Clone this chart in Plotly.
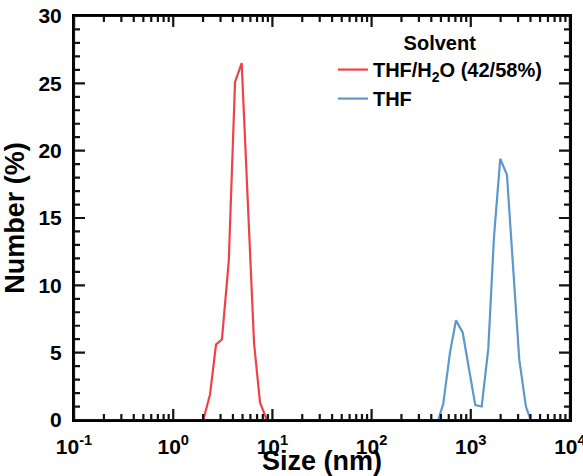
import plotly.graph_objects as go

# Red series: THF/H2O (42/58%)
size_mix = [2.01, 2.35, 2.70, 3.10, 3.63, 4.20, 4.90, 5.65, 6.53, 7.50, 8.77]
num_mix = [0.0, 1.9, 5.6, 6.0, 11.8, 25.1, 26.5, 16.1, 5.7, 1.3, 0.0]

# Blue series: THF
size_thf = [470, 528, 617, 709, 829, 966, 1110, 1288, 1502, 1714, 1983, 2317, 2681, 3082, 3599, 4017]
num_thf = [0.0, 1.2, 5.0, 7.4, 6.5, 3.8, 1.1, 1.0, 5.3, 13.6, 19.4, 18.2, 11.3, 4.5, 1.0, 0.0]

x_tickvals = [0.1, 1, 10, 100, 1000, 10000]
x_ticktext = ["<b>10<sup>-1</sup></b>", "<b>10<sup>0</sup></b>", "<b>10<sup>1</sup></b>",
              "<b>10<sup>2</sup></b>", "<b>10<sup>3</sup></b>", "<b>10<sup>4</sup></b>"]
x_minor = [m * 10 ** e for e in range(-1, 4) for m in range(2, 10)]
y_tickvals = [0, 5, 10, 15, 20, 25, 30]
y_ticktext = ["<b>%d</b>" % v for v in y_tickvals]
y_minor = [v for v in range(0, 31) if v % 5 != 0]

FONT = "Liberation Sans, Arial, sans-serif"
W, H = 583, 476
ML, MR, MT, MB = 74, 13, 16, 56
PW, PH = W - ML - MR, H - MT - MB
MAJ, MIN = 11, 6  # tick lengths in px
XR = [-1.0005, 4.0005]
YR = [0, 30]

fig = go.Figure()
fig.add_trace(go.Scatter(x=size_mix, y=num_mix, mode="lines",
                         name="<b>THF/H<sub>2</sub>O (42/58%)</b>",
                         line=dict(color="#ee4249", width=2.2)))
fig.add_trace(go.Scatter(x=size_thf, y=num_thf, mode="lines",
                         name="<b>THF</b>",
                         line=dict(color="#5c98cc", width=2.2)))

# inward tick marks on all four sides: one continuous "comb" path per side
ydat = YR[1] - YR[0]
xspan = XR[1] - XR[0]
xt = sorted([(v, MAJ) for v in x_tickvals] + [(v, MIN) for v in x_minor])
yt = sorted([(v, MAJ) for v in y_tickvals] + [(v, MIN) for v in y_minor])
combs = []
for base, sgn in ((YR[0], 1), (YR[1], -1)):
    cx, cy = [], []
    for v, ln in xt:
        d = ln / PH * ydat
        cx += [v, v, v]
        cy += [base, base + sgn * d, base]
    combs.append((cx, cy))
for base, sgn in ((XR[0], 1), (XR[1], -1)):
    cx, cy = [], []
    for v, ln in yt:
        d = ln / PW * xspan
        cx += [10 ** base, 10 ** (base + sgn * d), 10 ** base]
        cy += [v, v, v]
    combs.append((cx, cy))
for cx, cy in combs:
    fig.add_trace(go.Scatter(x=cx, y=cy, mode="lines", line=dict(color="#141414", width=2.2),
                             showlegend=False, hoverinfo="skip", cliponaxis=False))

fig.update_layout(
    template="none",
    width=W, height=H,
    margin=dict(l=ML, r=MR, t=MT, b=MB),
    paper_bgcolor="white", plot_bgcolor="white",
    font=dict(family=FONT, color="black"),
    showlegend=True,
    legend=dict(
        x=0.522, y=0.980, xanchor="left", yanchor="top",
        bgcolor="rgba(0,0,0,0)",
        font=dict(size=20, family=FONT, color="black"),
        title=dict(text="<b>Solvent</b>", side="top center",
                   font=dict(size=20, family=FONT, color="black")),
        itemwidth=30,
    ),
    xaxis=dict(
        type="log", range=XR,
        tickmode="array", tickvals=x_tickvals, ticktext=x_ticktext,
        ticks="", ticklabelstandoff=7,
        showline=True, linewidth=2, linecolor="black", mirror=True,
        showgrid=False, zeroline=False, automargin=False,
        ticklabeloverflow="allow",
        tickfont=dict(size=21, family=FONT, color="black"),
        title=dict(text="<b>Size (nm)</b>", font=dict(size=27, family=FONT, color="black")),
    ),
    yaxis=dict(
        range=YR,
        tickmode="array", tickvals=y_tickvals, ticktext=y_ticktext,
        ticks="", ticklabelstandoff=6,
        showline=True, linewidth=2, linecolor="black", mirror=True,
        showgrid=False, zeroline=False, automargin=False,
        tickfont=dict(size=21, family=FONT, color="black"),
        title=dict(text="<b>Number (%)</b>", font=dict(size=27, family=FONT, color="black")),
    ),
)

fig.write_html("out.html")
